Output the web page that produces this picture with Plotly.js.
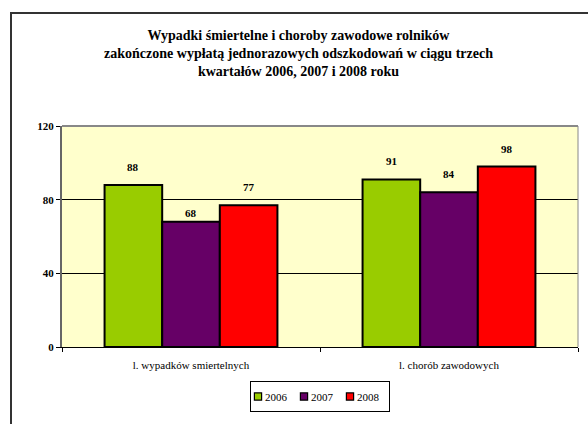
<!DOCTYPE html>
<html>
<head>
<meta charset="utf-8">
<script src="https://cdn.plot.ly/plotly-3.0.1.min.js"></script>
<style>
  html, body { margin: 0; padding: 0; background: #fff; }
  #wrap { position: relative; width: 588px; height: 424px; overflow: hidden; }
  #frame { position: absolute; left: 10px; top: 12px; width: 600px; height: 440px;
           border-left: 2px solid #333; border-top: 2px solid #333; pointer-events: none; }
  #chart { position: absolute; left: 0; top: 0; width: 588px; height: 424px; }
</style>
</head>
<body>
<div id="wrap">
  <div id="chart"></div>
  <div id="frame"></div>
</div>
<script>
const categories = ['l. wypadków smiertelnych', 'l. chorób zawodowych'];
const years = ['2006', '2007', '2008'];
const values2006 = [88, 91];
const values2007 = [68, 84];
const values2008 = [77, 98];
const colors = ['#99CC00', '#660066', '#FF0000'];
const yTicks = [0, 40, 80, 120];

const series = [values2006, values2007, values2008];
const serif = "'Liberation Serif', 'Times New Roman', serif";

const traces = series.map((vals, i) => ({
  type: 'bar',
  name: years[i],
  x: categories,
  y: vals,
  marker: { color: colors[i], line: { color: '#000', width: 2 } },
  hoverinfo: 'none'
}));

const margin = { l: 62, r: 10, t: 126, b: 77 };
const plotW = 588 - margin.l - margin.r;
const bargap = 0.33;
const barPx = plotW / categories.length * (1 - bargap) / series.length;

const annotations = [];
series.forEach((vals, i) => {
  vals.forEach((v, j) => {
    annotations.push({
      x: categories[j], y: v, xref: 'x', yref: 'y',
      text: String(v), showarrow: false,
      xshift: (i - 1) * barPx,
      yshift: (i === 1 && j === 0) ? 9 : 18,
      font: { family: serif, size: 11, color: '#000', weight: 'bold' }
    });
  });
});

const layout = {
  width: 588, height: 424,
  margin: Object.assign({ autoexpand: false }, margin),
  paper_bgcolor: 'rgba(0,0,0,0)',
  plot_bgcolor: '#FFFFCC',
  barmode: 'group',
  bargap: bargap,
  bargroupgap: 0,
  showlegend: true,
  title: {
    text: 'Wypadki śmiertelne i choroby zawodowe rolników<br>zakończone wypłatą jednorazowych odszkodowań w ciągu trzech<br>kwartałów 2006, 2007 i 2008 roku',
    font: { family: serif, size: 14, color: '#000', weight: 'bold' },
    x: 298.5 / 588, xref: 'container', xanchor: 'center',
    y: 1 - 40 / 424, yref: 'container', yanchor: 'top'
  },
  xaxis: {
    type: 'category',
    tickson: 'boundaries',
    ticks: 'outside', ticklen: 4, tickcolor: '#000',
    ticklabelstandoff: 8,
    showline: true, linecolor: '#000', linewidth: 1,
    showgrid: false,
    tickfont: { family: serif, size: 11, color: '#000' },
    fixedrange: true
  },
  yaxis: {
    range: [0, 120],
    tickvals: yTicks,
    ticktext: yTicks.map(String),
    ticks: 'outside', ticklen: 4, tickcolor: '#000',
    showline: true, linecolor: '#666', linewidth: 2,
    showgrid: true, gridcolor: '#000', gridwidth: 1,
    zeroline: false,
    tickfont: { family: serif, size: 11, color: '#000', weight: 'bold' },
    fixedrange: true
  },
  shapes: [
    { type: 'line', xref: 'paper', yref: 'paper', x0: 0, x1: 1, y0: 1, y1: 1,
      line: { color: '#888', width: 2 }, layer: 'above' },
    { type: 'line', xref: 'paper', yref: 'paper', x0: 1, x1: 1, y0: 0, y1: 1,
      line: { color: '#888', width: 1 }, layer: 'above' }
  ],
  legend: {
    orientation: 'h',
    x: 320 / 588, xref: 'container', xanchor: 'center',
    y: 1 - 381 / 424, yref: 'container', yanchor: 'top',
    bordercolor: '#000', borderwidth: 1,
    bgcolor: '#fff',
    itemwidth: 30,
    entrywidth: 1, entrywidthmode: 'pixels',
    font: { family: serif, size: 11, color: '#000' },
    traceorder: 'normal'
  },
  annotations: annotations
};

Plotly.newPlot('chart', traces, layout, { displayModeBar: false, staticPlot: true }).then(gd => {
  try {
    gd.querySelectorAll('.legend .traces').forEach(g => {
      const t = g.querySelector('.legendtext');
      if (t) t.setAttribute('x', 14);
      g.querySelectorAll('.legendpoints path').forEach(p => {
        p.setAttribute('transform', 'translate(7,0) scale(0.6)');
      });
    });
  } catch (e) {}
});
</script>
</body>
</html>
